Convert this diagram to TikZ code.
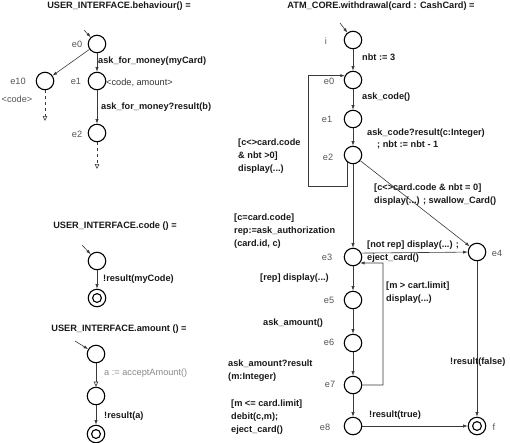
\documentclass[tikz,border=0pt]{standalone}
\usepackage{fontspec}
\setmainfont{Liberation Sans}
\usetikzlibrary{positioning,arrows.meta}
\definecolor{lbl}{HTML}{555555}
\definecolor{soft}{HTML}{8A8A8A}
\definecolor{wire}{HTML}{3A3A3A}

\begin{document}
\begin{tikzpicture}[x=1pt,y=-1pt,every node/.style={font=\fontsize{9.2}{13}\selectfont}]
   \tikzstyle{st}=[circle,draw,minimum size=17.5pt,inner sep=0pt,line width=1.1pt];
   \tikzstyle{fin}=[st,path picture={\draw[line width=1.1pt] (path picture bounding box.center) circle (4.4pt);}];
   \tikzstyle{l}=[draw=wire,line width=0.6pt,-{Latex[length=4.5pt,width=3.2pt]}];
   \tikzstyle{lo}=[draw=wire,line width=0.6pt,-{Triangle[open,length=5pt,width=4.5pt]}];
   \tikzstyle{ld}=[lo,dash pattern=on 3pt off 3pt];
   \tikzstyle{b}=[font=\fontsize{9.2}{13}\selectfont\bfseries,anchor=west,align=left,inner sep=0pt,text=black!90];
   \tikzstyle{nm}=[text=lbl,inner sep=0pt];
   \useasboundingbox (0,0) rectangle (510,442);
   % titles
   \node[b,anchor=base] (t1) at (119,8.5) {USER\_INTERFACE.behaviour() =};
   \node[b,anchor=base] (t2) at (381,8.5) {ATM\_CORE.withdrawal(card : CashCard) =};
   \node[b,anchor=center] (t3) at (115,226) {USER\_INTERFACE.code () =};
   \node[b,anchor=center] (t4) at (119,329) {USER\_INTERFACE.amount () =};
   % USER_INTERFACE.behaviour
   \node[st] (ui0)  at (97,44)  {};
   \node[st] (ui10) at (45,81)  {};
   \node[st] (ui1)  at (97,81)  {};
   \node[st] (ui2)  at (97,133) {};
   \coordinate (ui0s) at (84,30);
   \coordinate (d10)  at (45,121);
   \coordinate (d2)   at (97,169);
   \node[nm] at (77,44)  {e0};
   \node[nm] at (18,81)  {e10};
   \node[nm] at (17,99)  {<code>};
   \node[nm] at (76,81)  {e1};
   \node[nm] at (77,134) {e2};
   \draw[l] (ui0s) -- (ui0);
   \draw[l] (ui0) -- (ui10);
   \draw[l] (ui0) -- (ui1);
   \draw[l] (ui1) -- (ui2);
   \draw[ld] (ui10) -- (d10);
   \draw[ld] (ui2) -- (d2);
   \node[b] at (98,61)  {ask\_for\_money(myCard)};
   \node[nm,anchor=west,text=black!80] at (106,83) {<code, amount>};
   \node[b] at (101,107) {ask\_for\_money?result(b)};
   % USER_INTERFACE.code
   \node[st]  (uc0) at (97,261) {};
   \node[fin] (uc1) at (97,298) {};
   \coordinate (uc0s) at (82,245);
   \draw[l] (uc0s) -- (uc0);
   \draw[l] (uc0) -- (uc1);
   \node[b] at (103,279) {!result(myCode)};
   % USER_INTERFACE.amount
   \node[st]  (ua0) at (96,354) {};
   \node[st]  (ua1) at (96,396) {};
   \node[fin] (ua2) at (96,434) {};
   \coordinate (ua0s) at (75,341);
   \draw[l] (ua0s) -- (ua0);
   \draw[lo] (ua0) -- (ua1);
   \draw[l] (ua1) -- (ua2);
   \node[nm,anchor=west,text=soft] at (104,373) {a := acceptAmount()};
   \node[b] at (104,416) {!result(a)};
   % ATM_CORE.withdrawal
   \node[st]  (ai) at (353,40)  {};
   \node[st]  (a0) at (353,80)  {};
   \node[st]  (a1) at (353,119) {};
   \node[st]  (a2) at (353,155) {};
   \node[st]  (a3) at (353,257) {};
   \node[st]  (a4) at (477,252) {};
   \node[st]  (a5) at (353,300) {};
   \node[st]  (a6) at (353,343) {};
   \node[st]  (a7) at (353,385) {};
   \node[st]  (a8) at (353,426) {};
   \node[fin] (af) at (477,426) {};
   \coordinate (ais) at (340,23);
   \coordinate (lp) at (308,186);
   \coordinate (rp) at (383,263);
   \node[nm] at (326,41)  {i};
   \node[nm] at (329,81)  {e0};
   \node[nm] at (327,119) {e1};
   \node[nm] at (328,157) {e2};
   \node[nm] at (327,257) {e3};
   \node[nm] at (497,253) {e4};
   \node[nm] at (329,300) {e5};
   \node[nm] at (329,342) {e6};
   \node[nm] at (330,384) {e7};
   \node[nm] at (325,427) {e8};
   \node[nm] at (494,427) {f};
   \draw[l] (ais) -- (ai);
   \draw[l] (ai) -- (a0);
   \draw[l] (a0) -- (a1);
   \draw[l] (a1) -- (a2);
   \draw[l] (a2.232) |- (lp) |- (a0.152);
   \draw[l] (a2) -- (a3);
   \draw[l] (a2) -- (a4);
   \draw[l] (a3.25) -- (a4);
   \draw[l] (a3) -- (a5);
   \draw[l] (a5) -- (a6);
   \draw[l] (a6) -- (a7);
   \draw[l] (a7) -| (rp) -- (a3.-40);
   \draw[l] (a7) -- (a8);
   \draw[l] (a8) -- (af);
   \draw[l] (a4) -- (af);
   \node[b] at (362,57)  {nbt := 3};
   \node[b] at (362,97)  {ask\_code()};
   \node[b] at (367,133) {ask\_code?result(c:Integer)};
   \node[b] at (377,145) {; nbt := nbt - 1};
   \node[b] at (238,156) {[c<>card.code\\\& nbt >0]\\display(...)};
   \node[b] at (374,195) {[c<>card.code \& nbt = 0]\\display(...) ; swallow\_Card()};
   \node[b] at (234,231) {[c=card.code]\\rep:=ask\_authorization\\(card.id, c)};
   \node[b] at (367,245) {[not rep] display(...) ;};
   \node[b] at (367,258) {eject\_card()};
   \node[b] at (260,278) {[rep] display(...)};
   \node[b] at (386,293) {[m > cart.limit]\\display(...)};
   \node[b] at (263,323) {ask\_amount()};
   \node[b] at (228,371) {ask\_amount?result\\(m:Integer)};
   \node[b] at (231,417) {[m <= card.limit]\\debit(c,m);\\eject\_card()};
   \node[b] at (369,415) {!result(true)};
   \node[b] at (450,362) {!result(false)};
\end{tikzpicture}
\end{document}
